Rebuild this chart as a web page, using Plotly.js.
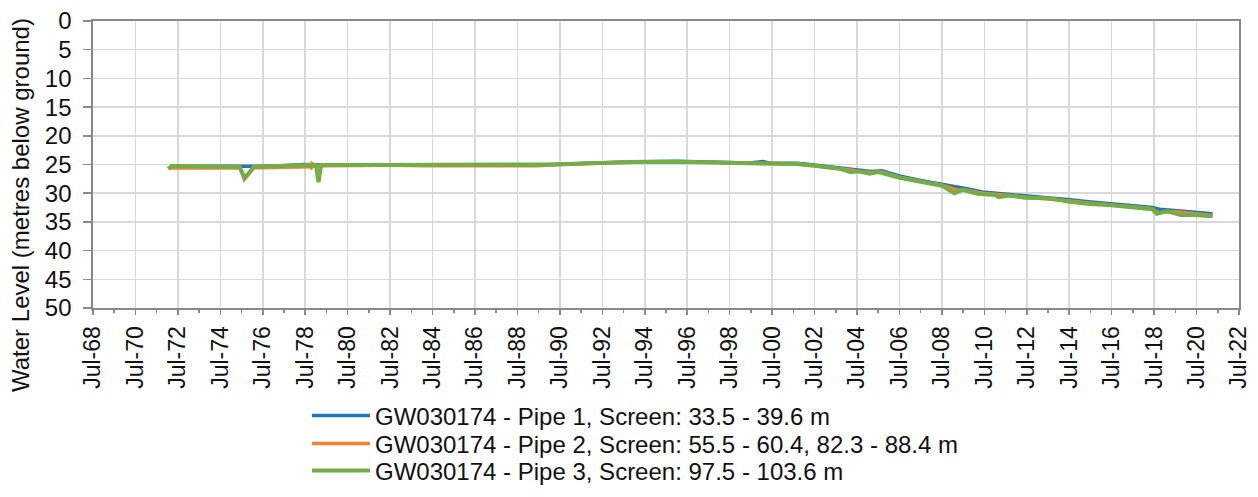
<!DOCTYPE html>
<html>
<head>
<meta charset="utf-8">
<script src="https://cdn.plot.ly/plotly-3.0.1.min.js"></script>
<style>
html,body{margin:0;padding:0;background:#fff;}
#chart{width:1258px;height:497px;}
</style>
</head>
<body>
<div id="chart"></div>
<script>
// ---- Data ----
const seriesNames = [
  'GW030174 - Pipe 1, Screen: 33.5 - 39.6 m',
  'GW030174 - Pipe 2, Screen: 55.5 - 60.4, 82.3 - 88.4 m',
  'GW030174 - Pipe 3, Screen: 97.5 - 103.6 m'
];

const pipe1Dates = ['1972-02-15','1972-06-01','1973-06-01','1974-06-01','1975-06-01','1976-06-01','1977-06-01','1978-06-01','1979-06-01','1980-06-01',
  '1982-06-01','1984-06-01','1986-06-01','1988-06-01','1990-01-01','1991-01-01','1992-06-01','1994-01-01','1996-01-01','1997-06-01',
  '1998-06-01','1999-06-01','2000-02-01','2000-06-01','2001-09-01','2002-07-01','2003-03-01','2004-01-01','2004-09-01','2005-03-01',
  '2005-09-01','2006-07-01','2007-07-01','2008-07-01','2009-03-01','2009-09-01','2010-06-01','2011-06-01','2012-06-01','2013-06-01',
  '2014-06-01','2015-06-01','2016-06-01','2017-06-01','2018-06-01','2018-10-01','2019-06-01','2020-06-01','2021-04-01'];
const pipe1Levels = [25.4,25.3,25.3,25.35,25.35,25.3,25.2,25.0,25.1,25.1,
  25.1,25.15,25.1,25.05,25.0,24.85,24.65,24.5,24.45,24.5,
  24.65,24.75,24.5,24.8,24.8,25.1,25.35,25.7,26.0,26.2,
  26.1,27.0,27.8,28.4,28.9,29.2,29.8,30.1,30.4,30.75,
  31.1,31.5,31.85,32.15,32.5,32.8,33.0,33.3,33.6];

const pipe2Dates = ['1972-02-15','1973-06-01','1974-06-01','1975-06-01','1975-08-20','1976-02-01','1976-06-01','1977-06-01','1978-06-01','1978-09-01',
  '1978-10-15','1978-12-01','1979-06-01','1980-06-01','1982-06-01','1984-06-01','1986-06-01','1988-06-01','1989-06-01','1990-06-01',
  '1991-06-01','1992-06-01','1994-01-01','1996-01-01','1997-06-01','1998-06-01','1999-06-01','2000-06-01','2001-09-01','2002-07-01',
  '2003-03-01','2004-01-01','2004-09-01','2005-03-01','2005-09-01','2006-07-01','2007-07-01','2008-07-01','2009-03-01','2009-09-01',
  '2010-06-01','2011-06-01','2012-06-01','2013-06-01','2014-06-01','2015-06-01','2016-06-01','2017-06-01','2018-06-01','2018-09-01',
  '2019-06-01','2020-06-01','2021-04-01'];
const pipe2Levels = [25.6,25.6,25.6,25.55,27.6,25.55,25.55,25.5,25.4,25.4,
  24.8,25.3,25.2,25.15,25.15,25.2,25.15,25.15,25.2,25.0,
  24.9,24.7,24.55,24.5,24.55,24.7,24.8,24.85,24.85,25.2,
  25.45,25.85,26.2,26.4,26.3,27.2,27.9,28.6,29.4,29.5,
  30.0,30.3,30.6,30.95,31.3,31.7,32.05,32.35,32.7,33.4,
  33.2,33.6,33.9];

const pipe3Dates = ['1972-01-15','1972-03-15','1973-06-01','1974-06-01','1975-06-01','1975-08-20','1976-02-01','1976-06-01','1977-06-01','1978-06-01',
  '1978-09-01','1978-10-15','1978-11-20','1979-01-01','1979-02-15','1979-04-01','1980-06-01','1982-06-01','1984-06-01','1986-06-01',
  '1988-06-01','1990-01-01','1991-01-01','1992-06-01','1994-01-01','1996-01-01','1997-06-01','1998-06-01','1999-06-01','2000-06-01',
  '2001-09-01','2002-07-01','2003-03-01','2003-10-01','2004-03-01','2004-08-01','2005-02-01','2005-07-01','2006-07-01','2007-07-01',
  '2008-07-01','2009-02-01','2009-07-01','2010-03-01','2011-01-01','2011-03-01','2011-09-01','2012-06-01','2013-08-01','2014-07-01',
  '2015-07-01','2016-07-01','2017-06-01','2018-06-01','2018-08-15','2019-02-01','2019-10-01','2020-06-01','2021-04-01'];
const pipe3Levels = [25.8,25.25,25.35,25.35,25.4,27.4,25.4,25.35,25.3,25.2,
  25.1,25.5,25.0,25.1,28.1,25.1,25.1,25.15,25.2,25.15,
  25.1,25.05,24.9,24.7,24.55,24.5,24.55,24.7,24.8,24.85,
  24.9,25.2,25.45,25.8,26.3,26.2,26.6,26.3,27.3,28.0,
  28.7,30.0,29.4,30.1,30.3,30.7,30.4,30.8,30.9,31.5,
  31.9,32.1,32.4,32.8,33.6,33.1,33.8,33.8,34.0];

const yTitle = 'Water Level (metres below ground)';

// ---- Styling ----
const FONT = 'Liberation Sans, Arial, sans-serif';
const FS = 24;     // legend / title
const TFS = 23;    // x tick labels
const colors = ['#1f77b9', '#f7812e', '#72ad45'];
const widths = [3.5, 3.5, 4];
const axisCol = '#898989';
const gridCol = '#d9d9d9';
const txtCol = '#111';

const xs = [pipe1Dates, pipe2Dates, pipe3Dates];
const ys = [pipe1Levels, pipe2Levels, pipe3Levels];
const legendIds = ['legend', 'legend2', 'legend3'];
const legendRowY = [416, 444, 471];

const traces = seriesNames.map((n, i) => ({
  type: 'scatter', mode: 'lines', name: n,
  x: xs[i], y: ys[i], legend: legendIds[i],
  line: {color: colors[i], width: widths[i]}
}));

function legendBox(rowY) {
  return {
    orientation: 'v', xref: 'container', yref: 'container',
    x: 307 / 1258, xanchor: 'left', y: 1 - rowY / 497, yanchor: 'middle',
    font: {family: FONT, size: FS, color: txtCol},
    bgcolor: 'rgba(0,0,0,0)', itemwidth: 58, tracegroupgap: 0
  };
}

const layout = {
  width: 1258, height: 497,
  margin: {l: 93, r: 19, t: 21, b: 189, autoexpand: false},
  paper_bgcolor: '#fff', plot_bgcolor: '#fff',
  font: {family: FONT, size: FS, color: txtCol},
  showlegend: true,
  legend: legendBox(legendRowY[0]),
  legend2: legendBox(legendRowY[1]),
  legend3: legendBox(legendRowY[2]),
  xaxis: {
    type: 'date',
    range: ['1968-07-01', '2022-07-01'],
    tick0: '1968-07-01', dtick: 'M24',
    tickformat: '%b-%y', tickangle: -90,
    ticks: 'outside', ticklen: 5, tickwidth: 1.5, tickcolor: axisCol,
    ticklabelstandoff: 2,
    showgrid: true, gridcolor: gridCol, gridwidth: 1.5,
    showline: true, linecolor: axisCol, linewidth: 2, mirror: true,
    zeroline: false,
    tickfont: {family: FONT, size: TFS, color: txtCol},
    minor: {dtick: 'M12', tick0: '1969-07-01', ticks: 'outside', ticklen: 3, tickwidth: 1.5, tickcolor: axisCol, showgrid: false}
  },
  yaxis: {
    range: [50, 0], dtick: 5, tick0: 0,
    ticks: 'outside', ticklen: 8, tickwidth: 1.5, tickcolor: axisCol,
    ticksuffix: '\u00a0',
    showgrid: true, gridcolor: gridCol, gridwidth: 1.5,
    showline: true, linecolor: axisCol, linewidth: 2, mirror: true,
    zeroline: false,
    tickfont: {family: FONT, size: FS, color: txtCol}
  },
  annotations: [{
    text: yTitle, textangle: -90, showarrow: false,
    xref: 'paper', yref: 'paper',
    x: (20 - 93) / 1146, y: (308 - 205) / 287,
    xanchor: 'center', yanchor: 'middle',
    font: {family: FONT, size: FS, color: txtCol}
  }]
};

Plotly.newPlot('chart', traces, layout, {displayModeBar: false, staticPlot: true});
</script>
</body>
</html>
